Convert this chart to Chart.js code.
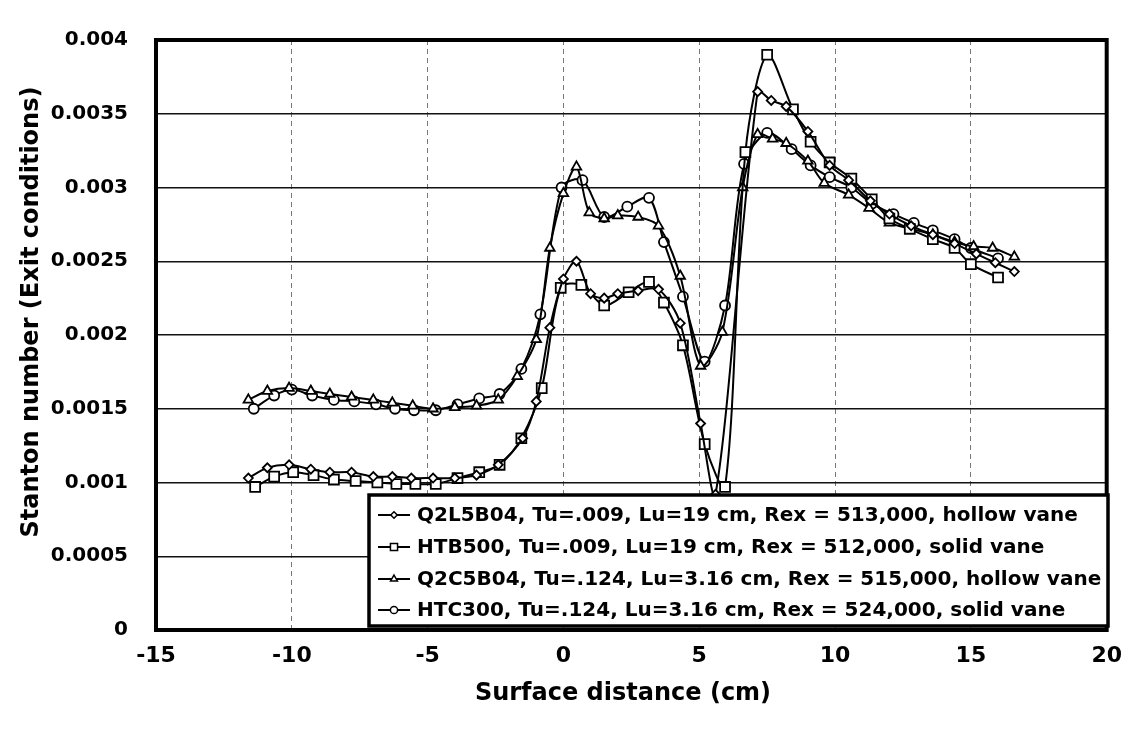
<!DOCTYPE html>
<html>
<head>
<meta charset="utf-8">
<script src="https://cdn.jsdelivr.net/npm/chart.js@4.4.1/dist/chart.umd.min.js"></script>
<style>
  html, body { margin: 0; padding: 0; background: #fff; }
  #wrap { width: 1135px; height: 732px; }
</style>
</head>
<body>
<div id="wrap"><canvas id="c" width="1135" height="732"></canvas></div>
<script>
// Axis ticks
const xTickLabels = ['-15', '-10', '-5', '0', '5', '10', '15', '20'];
const yTickLabels = ['0', '0.0005', '0.001', '0.0015', '0.002', '0.0025', '0.003', '0.0035', '0.004'];

// Series names
const seriesNames = [
  'Q2L5B04, Tu=.009, Lu=19 cm, Rex = 513,000, hollow vane',
  'HTB500, Tu=.009, Lu=19 cm, Rex = 512,000, solid vane',
  'Q2C5B04, Tu=.124, Lu=3.16 cm, Rex = 515,000, hollow vane',
  'HTC300, Tu=.124, Lu=3.16 cm, Rex = 524,000, solid vane'
];

// Q2L5B04 (surface distance in cm, Stanton number)
const q2l5X = [-11.6, -10.9, -10.1, -9.3, -8.6, -7.8, -7.0, -6.3, -5.6, -4.8, -4.0, -3.2, -2.4, -1.5, -1.0, -0.5, 0.0, 0.48, 1.0, 1.5, 2.0, 2.75, 3.5, 4.3, 5.05, 5.6, 7.15, 7.65, 8.2, 9.0, 9.8, 10.5, 11.3, 12.0, 12.8, 13.6, 14.4, 15.2, 15.9, 16.6];
const q2l5Y = [0.00103, 0.0011, 0.00112, 0.00109, 0.00107, 0.00107, 0.00104, 0.00104, 0.00103, 0.00103, 0.00103, 0.00105, 0.00112, 0.0013, 0.00155, 0.00205, 0.00238, 0.0025, 0.00228, 0.00225, 0.00228, 0.0023, 0.00231, 0.00208, 0.0014, 0.00092, 0.00365, 0.00359, 0.00355, 0.00338, 0.00315, 0.00305, 0.00291, 0.00282, 0.00274, 0.00268, 0.00262, 0.00255, 0.00249, 0.00243];

// HTB500
const htb500X = [-11.35, -10.65, -9.95, -9.2, -8.45, -7.65, -6.85, -6.15, -5.45, -4.7, -3.9, -3.1, -2.35, -1.55, -0.8, -0.1, 0.66, 1.5, 2.4, 3.15, 3.7, 4.4, 5.2, 5.95, 6.7, 7.5, 8.45, 9.1, 9.8, 10.6, 11.35, 12.0, 12.75, 13.6, 14.4, 15.0, 16.0];
const htb500Y = [0.00097, 0.00104, 0.00107, 0.00105, 0.00102, 0.00101, 0.001, 0.00099, 0.00099, 0.00099, 0.00103, 0.00107, 0.00112, 0.0013, 0.00164, 0.00232, 0.00234, 0.0022, 0.00229, 0.00236, 0.00222, 0.00193, 0.00126, 0.00097, 0.00324, 0.0039, 0.00353, 0.00331, 0.00317, 0.00306, 0.00292, 0.00279, 0.00272, 0.00265, 0.00259, 0.00248, 0.00239];

// Q2C5B04
const q2c5X = [-11.6, -10.9, -10.1, -9.3, -8.6, -7.8, -7.0, -6.3, -5.55, -4.8, -4.0, -3.2, -2.4, -1.7, -1.0, -0.5, 0.0, 0.48, 0.95, 1.5, 2.0, 2.75, 3.5, 4.3, 5.05, 5.85, 6.6, 7.15, 7.7, 8.2, 9.0, 9.6, 10.5, 11.25, 12.0, 12.8, 13.6, 14.4, 15.1, 15.8, 16.6];
const q2c5Y = [0.00156, 0.00162, 0.00164, 0.00162, 0.0016, 0.00158, 0.00156, 0.00154, 0.00152, 0.0015, 0.00151, 0.00152, 0.00156, 0.00172, 0.00197, 0.00259, 0.00296, 0.00314, 0.00283, 0.00279, 0.00281, 0.0028, 0.00274, 0.0024, 0.00179, 0.00202, 0.003, 0.00336, 0.00333, 0.0033, 0.00318, 0.00303, 0.00295, 0.00286, 0.00276, 0.00272, 0.00268, 0.00263, 0.0026, 0.00259, 0.00253];

// HTC300
const htc300X = [-11.4, -10.65, -10.0, -9.25, -8.45, -7.7, -6.9, -6.2, -5.5, -4.7, -3.9, -3.1, -2.35, -1.55, -0.85, -0.07, 0.7, 1.5, 2.35, 3.15, 3.7, 4.4, 5.2, 5.95, 6.65, 7.5, 8.4, 9.1, 9.8, 10.6, 11.35, 12.15, 12.9, 13.6, 14.4, 15.0, 16.0];
const htc300Y = [0.0015, 0.00159, 0.00163, 0.00159, 0.00156, 0.00155, 0.00153, 0.0015, 0.00149, 0.00149, 0.00153, 0.00157, 0.0016, 0.00177, 0.00214, 0.003, 0.00305, 0.0028, 0.00287, 0.00293, 0.00263, 0.00226, 0.00182, 0.0022, 0.00316, 0.00337, 0.00326, 0.00315, 0.00307, 0.003, 0.00289, 0.00282, 0.00276, 0.00271, 0.00265, 0.00259, 0.00252];

const FONT = 'DejaVu Sans';
const pts = (xs, ys) => xs.map((x, i) => ({ x, y: ys[i] }));

function series(label, xs, ys, style, radius) {
  return {
    label,
    data: pts(xs, ys),
    borderColor: '#000',
    borderWidth: 2,
    tension: 0.3,
    pointStyle: style,
    pointRadius: radius,
    pointHoverRadius: radius,
    pointBackgroundColor: '#fff',
    pointBorderColor: '#000',
    pointBorderWidth: 1.8,
    fill: false
  };
}

// Thick frame round the plot area
const framePlugin = {
  id: 'frame',
  afterDatasetsDraw(chart) {
    const { ctx, chartArea: a } = chart;
    ctx.save();
    ctx.strokeStyle = '#000';
    ctx.lineWidth = 4;
    ctx.strokeRect(a.left, a.top, a.right - a.left, a.bottom - a.top);
    ctx.restore();
  }
};

// Axis titles placed by hand
const axisTitlePlugin = {
  id: 'axisTitles',
  afterDraw(chart) {
    const ctx = chart.ctx;
    ctx.save();
    ctx.fillStyle = '#000';
    ctx.font = 'bold 24px "' + FONT + '"';
    ctx.textAlign = 'center';
    ctx.textBaseline = 'middle';
    ctx.fillText('Surface distance (cm)', 623, 694);
    ctx.translate(32, 312);
    ctx.rotate(-Math.PI / 2);
    ctx.fillText('Stanton number (Exit conditions)', 0, 0);
    ctx.restore();
  }
};

// Boxed legend inside the lower right of the plot
const boxLegendPlugin = {
  id: 'boxLegend',
  afterDraw(chart) {
    const ctx = chart.ctx;
    const box = { l: 369, t: 495, r: 1108, b: 626 };
    ctx.save();
    ctx.fillStyle = '#fff';
    ctx.fillRect(box.l, box.t, box.r - box.l, box.b - box.t);
    ctx.strokeStyle = '#000';
    ctx.lineWidth = 3.5;
    ctx.strokeRect(box.l, box.t, box.r - box.l, box.b - box.t);
    const rows = [515, 547, 579, 610];
    chart.data.datasets.forEach((ds, i) => {
      const y = rows[i];
      ctx.strokeStyle = '#000';
      ctx.lineWidth = 2;
      ctx.beginPath();
      ctx.moveTo(378, y);
      ctx.lineTo(410, y);
      ctx.stroke();
      ctx.fillStyle = '#fff';
      ctx.lineWidth = 1.5;
      Chart.helpers.drawPoint(ctx, {
        pointStyle: ds.pointStyle,
        radius: ds.pointRadius * 0.72,
        rotation: 0,
        borderWidth: 1.5
      }, 394, y);
      ctx.fillStyle = '#000';
      ctx.font = 'bold 20px "' + FONT + '"';
      ctx.textAlign = 'left';
      ctx.textBaseline = 'middle';
      ctx.fillText(ds.label, 417, y + 1);
    });
    ctx.restore();
  }
};

new Chart(document.getElementById('c'), {
  type: 'line',
  data: {
    datasets: [
      series(seriesNames[0], q2l5X, q2l5Y, 'rectRot', 4.5),
      series(seriesNames[1], htb500X, htb500Y, 'rect', 7),
      series(seriesNames[2], q2c5X, q2c5Y, 'triangle', 5.5),
      series(seriesNames[3], htc300X, htc300Y, 'circle', 5)
    ]
  },
  options: {
    responsive: false,
    animation: false,
    events: [],
    layout: { padding: { top: 22, right: 24, left: 0, bottom: 0 } },
    plugins: {
      legend: { display: false },
      tooltip: { enabled: false },
      title: { display: false }
    },
    scales: {
      x: {
        type: 'linear',
        min: -15,
        max: 20,
        afterFit(scale) { scale.height = 102; },
        afterBuildTicks(scale) {
          scale.ticks = xTickLabels.map(v => ({ value: Number(v) }));
        },
        ticks: {
          padding: 13,
          color: '#000',
          font: { family: FONT, size: 22, weight: 'bold' },
          callback: (v) => xTickLabels.find(t => Number(t) === v) ?? ''
        },
        grid: { color: '#777', lineWidth: 1, drawTicks: false },
        border: { display: false, dash: [5, 4] }
      },
      y: {
        type: 'linear',
        min: 0,
        max: 0.004,
        afterFit(scale) { scale.width = 156; },
        afterBuildTicks(scale) {
          scale.ticks = yTickLabels.map(v => ({ value: Number(v) }));
        },
        ticks: {
          padding: 28,
          color: '#000',
          font: { family: FONT, size: 20, weight: 'bold' },
          callback: (v) => yTickLabels.find(t => Math.abs(Number(t) - v) < 1e-9) ?? ''
        },
        grid: { color: '#111', lineWidth: 1.5, drawTicks: false },
        border: { display: false }
      }
    }
  },
  plugins: [framePlugin, axisTitlePlugin, boxLegendPlugin]
});
</script>
</body>
</html>
